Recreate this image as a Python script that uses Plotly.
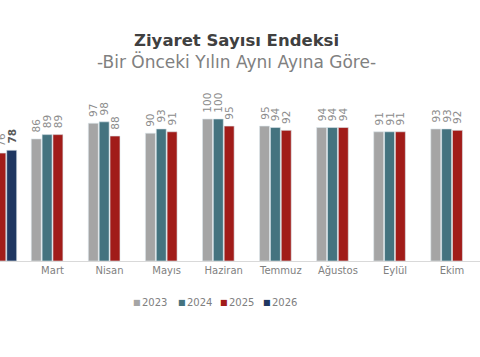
import plotly.graph_objects as go

months = ["Şubat", "Mart", "Nisan", "Mayıs", "Haziran", "Temmuz", "Ağustos", "Eylül", "Ekim"]
years = ["2023", "2024", "2025", "2026"]
v2023 = [None, 86, 97, 90, 100, 95, 94, 91, 93]
v2024 = [None, 89, 98, 93, 100, 94, 94, 91, 93]
v2025 = [76, 89, 88, 91, 95, 92, 94, 91, 92]
v2026 = [78, None, None, None, None, None, None, None, None]
series = [v2023, v2024, v2025, v2026]
colors = ["#A5A5A5", "#44737F", "#A11C19", "#1F3761"]

FONT = "DejaVu Sans"
TOP, BOT = 71, 261  # plot area pixel rows
PX_PER_UNIT = 1.42
YMAX = (BOT - TOP) / PX_PER_UNIT


def py(p):
    return (BOT - p) / (BOT - TOP)


fig = go.Figure()
for i, (name, vals, col) in enumerate(zip(years, series, colors)):
    bold = name == "2026"
    fig.add_trace(go.Bar(
        x=months, y=vals, name=name, showlegend=False,
        marker=dict(color=col, line=dict(color="#DDE8EC", width=0.6)),
        text=[("" if v is None else str(v)) for v in vals],
        texttemplate=" %{text}",
        textposition="outside", textangle=-90, constraintext="none",
        textfont=dict(family=FONT, size=10.5, color="#595959" if bold else "#8C8C8C",
                      weight="bold" if bold else "normal"),
        cliponaxis=True,
    ))

fig.update_layout(
    width=480, height=357,
    margin=dict(l=0, r=0, t=TOP, b=357 - BOT),
    paper_bgcolor="white", plot_bgcolor="white",
    barmode="group", bargap=0.24, bargroupgap=0.08,
    font=dict(family=FONT, color="#808080"),
    xaxis=dict(type="category", range=[0.08, 8.49], showline=True, linecolor="#D9D9D9",
               linewidth=1, ticks="", showgrid=False,
               tickfont=dict(family=FONT, size=10, color="#808080")),
    yaxis=dict(range=[0, YMAX], visible=False, showgrid=False, zeroline=False),
)

fig.add_annotation(text="<b>Ziyaret Sayısı Endeksi</b>", x=236/480, y=py(41),
                   xref="paper", yref="paper", showarrow=False, xanchor="center", yanchor="middle",
                   font=dict(family=FONT, size=16.5, color="#404040"))
fig.add_annotation(text="-Bir Önceki Yılın Aynı Ayına Göre-", x=236/480, y=py(61),
                   xref="paper", yref="paper", showarrow=False, xanchor="center", yanchor="middle",
                   font=dict(family=FONT, size=17, color="#808080"))

leg_x = [131, 176, 218, 261]
for lx, name, col in zip(leg_x, years, colors):
    fig.add_annotation(text="■", x=lx/480, y=py(302), xref="paper", yref="paper",
                       showarrow=False, xanchor="left", yanchor="middle",
                       font=dict(family=FONT, size=8, color=col))
    fig.add_annotation(text=name, x=(lx+9)/480, y=py(302), xref="paper", yref="paper",
                       showarrow=False, xanchor="left", yanchor="middle",
                       font=dict(family=FONT, size=10, color="#808080"))

fig.write_html("out.html", config={"displayModeBar": False},
               post_script="document.body.style.margin='0';")
